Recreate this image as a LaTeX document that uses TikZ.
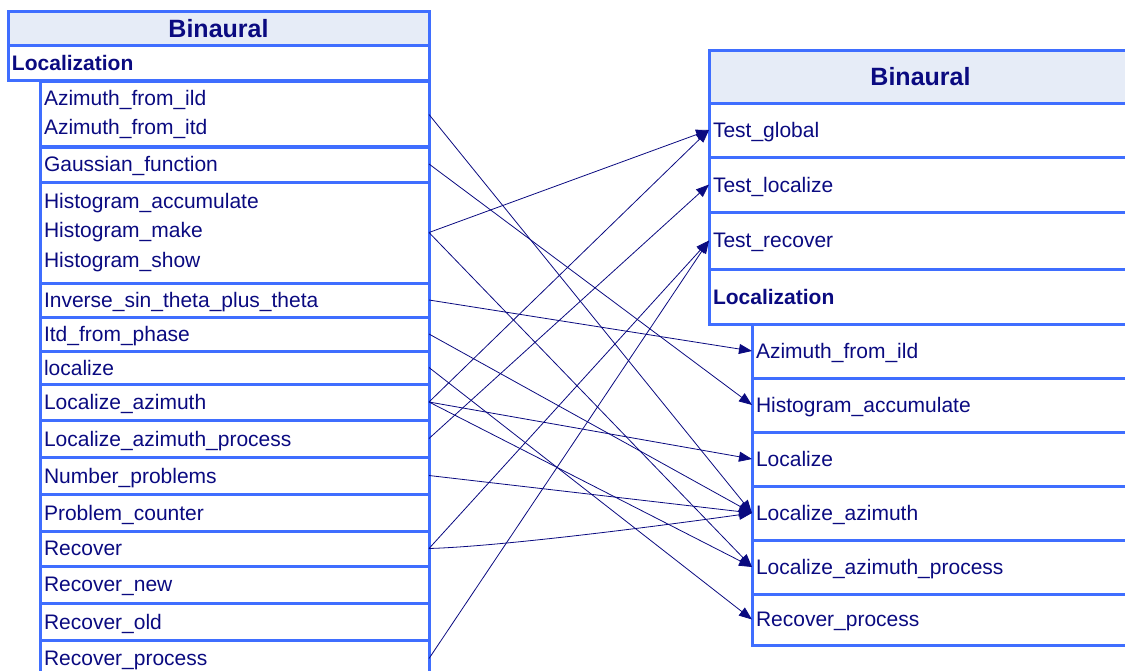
\documentclass[tikz,border=0pt]{standalone}
\usepackage{fontspec}
\setmainfont{Liberation Sans}
\usetikzlibrary{arrows.meta}
\definecolor{RowBlue}{HTML}{3F6EFF}
\definecolor{HeadFill}{HTML}{E6ECF7}
\definecolor{Ink}{HTML}{0A0A80}

\begin{document}
\begin{tikzpicture}[x=1pt,y=-1pt,
    rowbox/.style={draw=RowBlue,line width=3pt,outer sep=0pt,inner xsep=4pt,inner ysep=0pt,
      text depth=0pt,anchor=north west,align=left,text=Ink,font=\fontsize{21}{29.5}\selectfont},
    headbox/.style={rowbox,fill=HeadFill,align=center,font=\fontsize{25}{30}\selectfont\bfseries},
    leftrow/.style={rowbox,minimum width=389pt,text width=381pt},
    rightrow/.style={rowbox,minimum width=380pt,text width=372pt},
    testrow/.style={rowbox,minimum width=423pt,text width=415pt},
    link/.style={Ink,line width=0.8pt,-{Triangle[length=13pt,width=10pt]}}]
  \useasboundingbox (0,0) rectangle (1125,670);
  \clip (0,0) rectangle (1125,670);

  % left package
  \node[headbox,minimum width=421pt,minimum height=34pt] (lHeader) at (8,11) {Binaural};
  \node[rowbox,minimum width=421pt,text width=413pt,minimum height=35pt,font=\fontsize{21}{29.5}\selectfont\bfseries]
    (lLoc) at (8,45) {Localization};
  \node[leftrow,text depth=,minimum height=66pt,yshift=-1.5pt] (lAzimuth) at (40,80)
    {Azimuth\_from\_ild\\Azimuth\_from\_itd};
  \node[leftrow,text depth=,minimum height=101pt] (lHisto) at (40,182)
    {Histogram\_accumulate\\Histogram\_make\\Histogram\_show};
  \foreach \name/\ya/\yb/\txt in {
      lGauss/146/182/{Gaussian\_function},
      lInverse/283/317/{Inverse\_sin\_theta\_plus\_theta},
      lItd/317/351/{Itd\_from\_phase},
      llocalize/351/384/{localize},
      lLocAz/384/420/{Localize\_azimuth},
      lLocAzProc/420/457/{Localize\_azimuth\_process},
      lNumber/457/494/{Number\_problems},
      lProblem/494/531/{Problem\_counter},
      lRecover/531/566/{Recover},
      lRecNew/566/603/{Recover\_new},
      lRecOld/603/640/{Recover\_old},
      lRecProc/640/677/{Recover\_process}}
    \node[leftrow,minimum height={(\yb-\ya)*1pt}] (\name) at (40,\ya) {\txt};

  % right package
  \node[headbox,minimum width=423pt,minimum height=53pt] (rHeader) at (709,50) {Binaural};
  \foreach \name/\ya/\yb/\txt in {
      rTestGlobal/103/157/{Test\_global},
      rTestLocalize/157/212/{Test\_localize},
      rTestRecover/212/269/{Test\_recover}}
    \node[testrow,minimum height={(\yb-\ya)*1pt}] (\name) at (709,\ya) {\txt};
  \node[testrow,minimum height=55pt,font=\fontsize{21}{29.5}\selectfont\bfseries]
    (rLoc) at (709,269) {Localization};
  \foreach \name/\ya/\yb/\txt in {
      rAzimuth/324/378/{Azimuth\_from\_ild},
      rHisto/378/432/{Histogram\_accumulate},
      rLocalize/432/486/{Localize},
      rLocAz/486/540/{Localize\_azimuth},
      rLocAzProc/540/594/{Localize\_azimuth\_process},
      rRecProc/594/645/{Recover\_process}}
    \node[rightrow,minimum height={(\yb-\ya)*1pt}] (\name) at (752,\ya) {\txt};

  % dependencies
  \foreach \from/\to in {
      lAzimuth/rLocAz, lGauss/rHisto, lHisto/rTestGlobal, lHisto/rLocAzProc,
      lInverse/rAzimuth, lItd/rLocAz, llocalize/rRecProc, lLocAz/rTestGlobal,
      lLocAz/rLocalize, lLocAz/rLocAzProc, lLocAzProc/rTestLocalize,
      lNumber/rLocAz, lRecover/rTestRecover, lRecProc/rTestRecover}
    \draw[link] (\from.east) -- (\to.west);
  \draw[link] (lRecover.east) .. controls +(70,-2) and +(-100,14) .. (rLocAz.west);
\end{tikzpicture}
\end{document}
